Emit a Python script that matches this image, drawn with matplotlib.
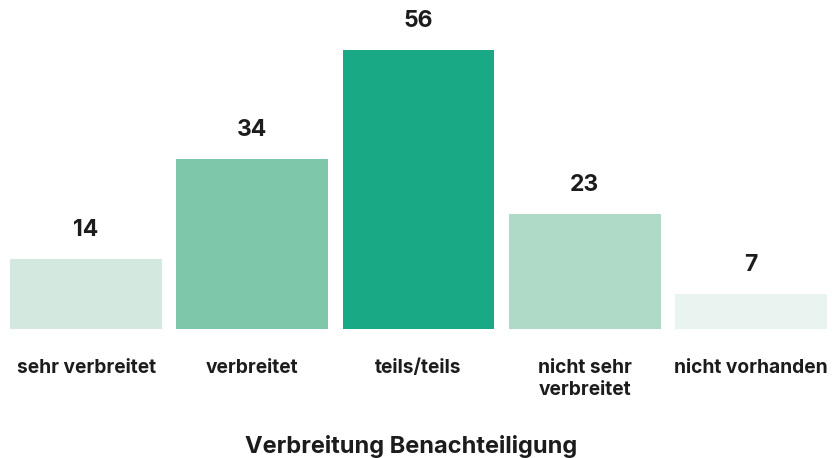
import matplotlib
matplotlib.use("Agg")
import matplotlib.pyplot as plt

categories = ["sehr verbreitet", "verbreitet", "teils/teils", "nicht sehr\nverbreitet", "nicht vorhanden"]
values = [14, 34, 56, 23, 7]
colors = ["#d3e9e0", "#7ec7ab", "#1aa985", "#afdac8", "#e9f3ef"]
xlabel = "Verbreitung Benachteiligung"

plt.rcParams['font.family'] = ['Inter', 'DejaVu Sans']
text_color = "#1c1c1c"

fig = plt.figure(figsize=(8.32, 4.58), dpi=100)
ax = fig.add_axes([3/832, 1 - 328.5/458, 831/832, 328.5/458])
x = list(range(len(values)))
bars = ax.bar(x, values, width=0.914, color=colors)
ax.set_xlim(-0.5, len(values) - 0.5)
ax.set_ylim(0, 66.06)
for xi, v in zip(x, values):
    ax.annotate(str(v), (xi, v), xytext=(0, 21), textcoords="offset points",
                ha="center", va="center", fontsize=16.5, fontweight="bold", color=text_color)
for xi, c in zip(x, categories):
    ax.annotate(c, (xi, 0), xycoords="data", xytext=(0, -22), textcoords="offset points",
                ha="center", va="top", fontsize=13.8, fontweight="bold", color=text_color,
                linespacing=1.3)
ax.axis("off")
fig.text(411.5/832, 1 - 452.5/458, xlabel, ha="center", va="baseline", fontsize=17,
         fontweight="bold", color=text_color)
fig.savefig("out.png", dpi=100)
